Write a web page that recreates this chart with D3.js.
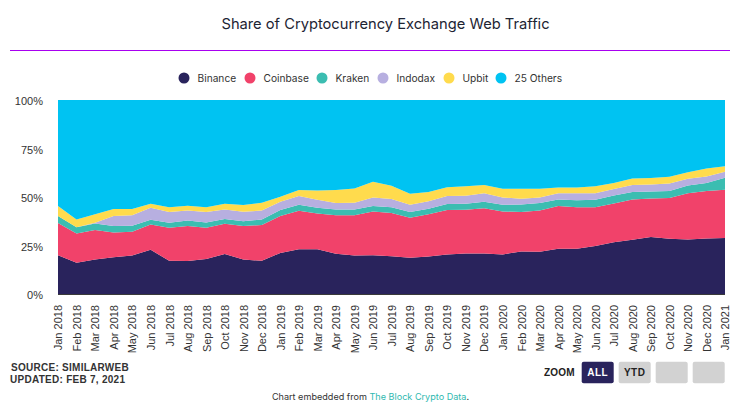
<!DOCTYPE html>
<html>
<head>
<meta charset="utf-8">
<script src="https://cdnjs.cloudflare.com/ajax/libs/d3/7.8.5/d3.min.js"></script>
<style>
  html, body { margin: 0; padding: 0; background: #fff; }
  svg { display: block; }
  .tick text { font-family: "Liberation Sans", Arial, sans-serif; }
</style>
</head>
<body>
<svg width="741" height="419"></svg>
<script>
var months = [
  "Jan 2018","Feb 2018","Mar 2018","Apr 2018","May 2018","Jun 2018","Jul 2018","Aug 2018","Sep 2018","Oct 2018","Nov 2018","Dec 2018",
  "Jan 2019","Feb 2019","Mar 2019","Apr 2019","May 2019","Jun 2019","Jul 2019","Aug 2019","Sep 2019","Oct 2019","Nov 2019","Dec 2019",
  "Jan 2020","Feb 2020","Mar 2020","Apr 2020","May 2020","Jun 2020","Jul 2020","Aug 2020","Sep 2020","Oct 2020","Nov 2020","Dec 2020",
  "Jan 2021"
];

var binance = [20.2,16.3,18,19.2,20,23,17.3,17.2,18.2,20.8,18,17.3,21.4,23.3,23.3,21,20,20.2,19.7,18.9,19.6,20.6,21.1,21.1,20.6,22.1,22,23.5,23.5,25,26.9,28.1,29.5,28.6,28.3,28.8,29];
var coinbase = [16.5,15.1,15.1,12.7,12.2,13,17,18,16.1,15.6,17.2,18.4,18.9,19.7,18.4,19.7,20.7,22.5,22.2,20.6,21.6,22.8,22.5,23.3,22.1,20.3,21.2,22,21.3,19.8,19.9,20.8,19.9,21,23.7,24.4,24.9];
var kraken = [3.6,3.2,3.4,3.3,3.1,2.4,2.6,2.9,2.7,2.4,2.5,2.9,3.1,3.1,2.9,3,3,2.8,3,2.9,2.9,3.1,3.1,3.3,3.4,3.9,3.8,3.4,3.6,3.9,4.1,3.8,3.6,3.6,4.1,4.1,6.1];
var indodax = [0,0,0.4,5.1,5.5,6.2,5.5,5.1,5.4,4.9,4.8,4.6,4.3,4.5,4.1,3.3,3.5,4.4,4.2,3.7,3.8,4.1,4.1,4.4,3.8,2.9,2.9,3.1,3.6,3.4,3.3,3.6,3.6,3.9,3.4,3.4,3.1];
var upbit = [5.2,4,4.3,3.6,3.1,2.1,2.5,2.4,2.4,3,3.5,4,2.6,3.1,4.8,6.7,7.3,8.1,6.8,5.7,4.8,4.6,4.8,4.2,4.5,5.2,4.5,3,3,3.5,3.1,3.4,3.3,3.4,3.3,4.1,2.8];
var others = [54.5,61.4,58.8,56.1,56.1,53.3,55.1,54.4,55.2,53.3,54,52.8,49.7,46.3,46.5,46.3,45.5,42,44.1,48.2,47.3,44.8,44.4,43.7,45.6,45.6,45.6,45,45,44.4,42.7,40.3,40.1,39.5,37.2,35.2,34.1];

var names = ["Binance","Coinbase","Kraken","Indodax","Upbit","25 Others"];
var values = [binance, coinbase, kraken, indodax, upbit, others];
var colors = ["#29235c","#f1426a","#3bbdb1","#b7afe0","#ffdb4d","#00c3f2"];
var yTicks = [0, 25, 50, 75, 100];
var zoomLabels = ["ALL", "YTD", "", ""];

var svg = d3.select("svg");
var left = 58, right = 725, top_ = 100, bottom = 294.5;

var rows = months.map(function(m, i) {
  var row = {month: m};
  names.forEach(function(n, j) { row[n] = values[j][i]; });
  return row;
});

var x = d3.scalePoint().domain(months).range([left, right]);
var y = d3.scaleLinear().domain([0, 100]).range([bottom, top_]);

var stacked = d3.stack().keys(names)(rows);

var area = d3.area()
  .x(function(d) { return x(d.data.month); })
  .y0(function(d) { return y(d[0]); })
  .y1(function(d) { return y(d[1]); });

svg.append("g").selectAll("path")
  .data(stacked)
  .join("path")
  .attr("d", area)
  .attr("fill", function(d, i) { return colors[i]; });

svg.append("line")
  .attr("x1", left).attr("x2", right)
  .attr("y1", bottom).attr("y2", bottom)
  .attr("stroke", "#3a3a3a");

// axes
var yAxis = svg.append("g")
  .attr("transform", "translate(" + left + ",0)")
  .call(d3.axisLeft(y).tickValues(yTicks).tickSize(0).tickPadding(15).tickFormat(function(d) { return d + "%"; }));
yAxis.select(".domain").remove();
yAxis.selectAll("text").attr("font-size", 11).attr("fill", "#333").attr("dy", "0.4em");

var xAxis = svg.append("g")
  .attr("transform", "translate(0," + bottom + ")")
  .call(d3.axisBottom(x).tickSize(0));
xAxis.select(".domain").remove();
xAxis.selectAll("text")
  .attr("font-size", 11)
  .attr("fill", "#333")
  .attr("text-anchor", "end")
  .attr("transform", "rotate(-90)")
  .attr("x", -10.5)
  .attr("y", 0)
  .attr("dy", "0.35em");

// title
svg.append("text")
  .attr("x", 385.5).attr("y", 29)
  .attr("text-anchor", "middle")
  .attr("font-family", "Inter, sans-serif")
  .attr("font-size", 14.7)
  .attr("fill", "#1d2433")
  .text("Share of Cryptocurrency Exchange Web Traffic");

svg.append("line")
  .attr("x1", 10).attr("x2", 730)
  .attr("y1", 50.5).attr("y2", 50.5)
  .attr("stroke", "#a800f0");

// legend
var legendDots = [184, 250, 322, 383, 449, 501];
var legend = svg.append("g").selectAll("g")
  .data(names)
  .join("g")
  .attr("transform", function(d, i) { return "translate(" + legendDots[i] + ",78)"; });
legend.append("circle")
  .attr("r", 5.5)
  .attr("fill", function(d, i) { return colors[i]; });
legend.append("text")
  .attr("x", 13.5)
  .attr("dy", "0.35em")
  .attr("font-family", "Inter, sans-serif")
  .attr("font-size", 10.2)
  .attr("fill", "#333")
  .text(function(d) { return d; });

// source
svg.append("text")
  .attr("x", 11).attr("y", 371)
  .attr("font-family", "Liberation Sans, Arial, sans-serif")
  .attr("font-size", 10).attr("font-weight", "bold")
  .attr("letter-spacing", 0.27).attr("fill", "#333")
  .text("SOURCE: SIMILARWEB");
svg.append("text")
  .attr("x", 10).attr("y", 382.5)
  .attr("font-family", "Liberation Sans, Arial, sans-serif")
  .attr("font-size", 10).attr("font-weight", "bold")
  .attr("letter-spacing", 0.27).attr("fill", "#333")
  .text("UPDATED: FEB 7, 2021");

// zoom buttons
svg.append("text")
  .attr("x", 544).attr("y", 376)
  .attr("font-family", "Liberation Sans, Arial, sans-serif")
  .attr("font-size", 10).attr("font-weight", "bold")
  .attr("letter-spacing", 0.2).attr("fill", "#222")
  .text("ZOOM");

var buttons = svg.append("g").selectAll("g")
  .data(zoomLabels)
  .join("g")
  .attr("transform", function(d, i) { return "translate(" + (581.7 + i * 37) + ",361.7)"; });
buttons.append("rect")
  .attr("width", 32).attr("height", 21.6).attr("rx", 2)
  .attr("fill", function(d, i) { return i === 0 ? "#29235c" : "#d2d2d2"; });
buttons.append("text")
  .attr("x", 16).attr("y", 14.7)
  .attr("text-anchor", "middle")
  .attr("font-family", "Liberation Sans, Arial, sans-serif")
  .attr("font-size", 10).attr("font-weight", "bold")
  .attr("letter-spacing", 0.5)
  .attr("fill", function(d, i) { return i === 0 ? "#fff" : "#222"; })
  .text(function(d) { return d; });

// embed note
var note = svg.append("text")
  .attr("x", 370.5).attr("y", 400)
  .attr("text-anchor", "middle")
  .attr("font-family", "Inter, sans-serif")
  .attr("font-size", 9.1)
  .attr("fill", "#333");
note.append("tspan").text("Chart embedded from ");
note.append("tspan").attr("fill", "#2fb9b0").text("The Block Crypto Data");
note.append("tspan").text(".");
</script>
</body>
</html>
